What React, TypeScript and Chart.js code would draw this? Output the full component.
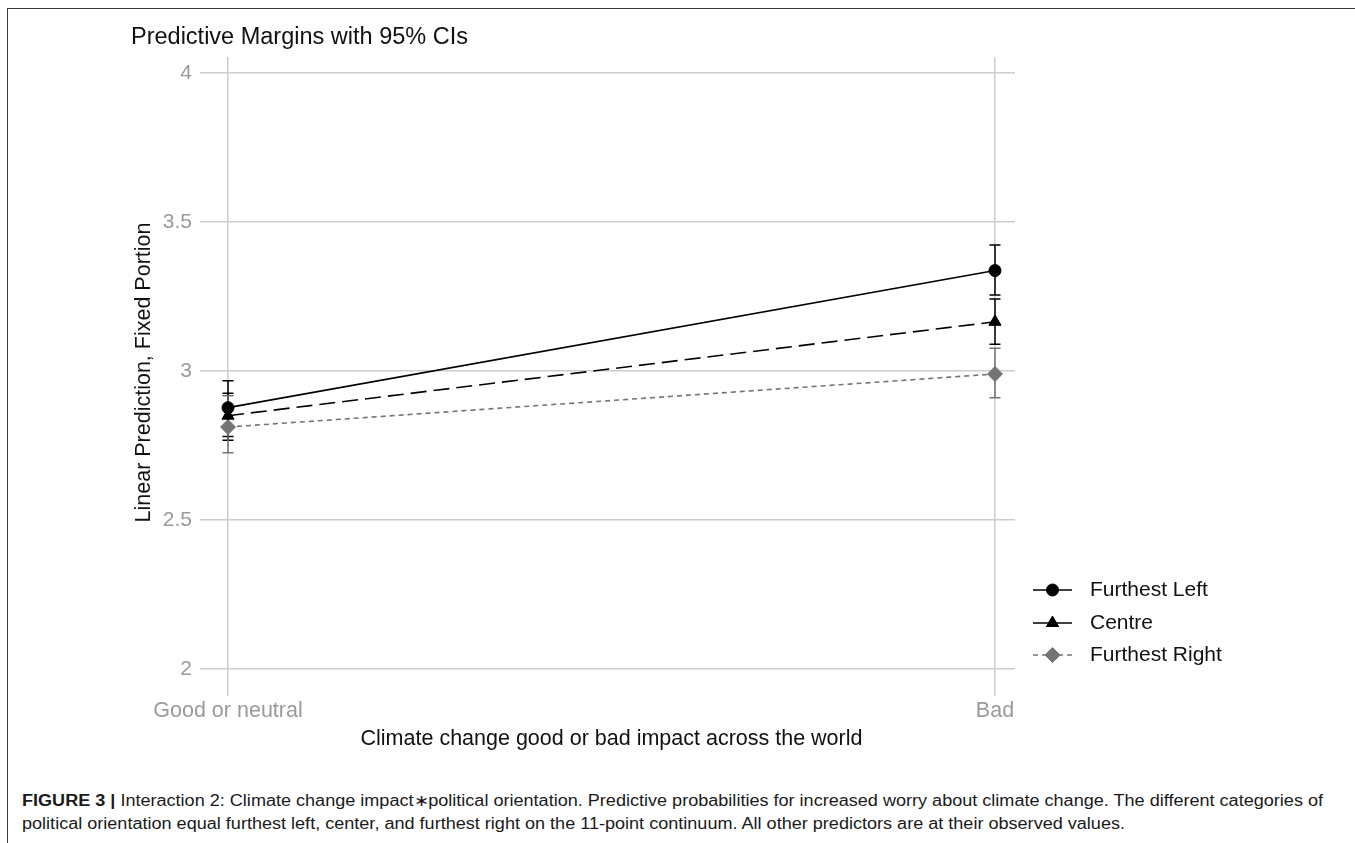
import React, { useEffect, useLayoutEffect, useRef } from "react";
import { Chart, registerables } from "chart.js";
import { drawPoint } from "chart.js/helpers";

Chart.register(...registerables);

// ---------- data ----------
const categories = ["Good or neutral", "Bad"];
const categoryX = [0, 1];
const yTicks = [2, 2.5, 3, 3.5, 4];
const seriesNames = ["Furthest Left", "Centre", "Furthest Right"];

const leftValues = [2.877, 3.337];
const leftLow = [2.78, 3.255];
const leftHigh = [2.967, 3.423];

const centreValues = [2.85, 3.165];
const centreLow = [2.768, 3.09];
const centreHigh = [2.925, 3.242];

const rightValues = [2.812, 2.99];
const rightLow = [2.726, 2.91];
const rightHigh = [2.917, 3.076];

const chartTitle = "Predictive Margins with 95% CIs";
const yTitle = "Linear Prediction, Fixed Portion";
const xTitle = "Climate change good or bad impact across the world";
const captionBold = "FIGURE 3 | ";
const captionLine1 =
  "Interaction 2: Climate change impact\u2217political orientation. Predictive probabilities for increased worry about climate change. The different categories of";
const captionLine2 =
  "political orientation equal furthest left, center, and furthest right on the 11-point continuum. All other predictors are at their observed values.";

// ---------- style ----------
const FONT = "'Liberation Sans', Arial, Helvetica, sans-serif";
const GRID = "#cdcdcd";
const TICK_COLOR = "#9a9a9a";
const GRAY = "#747474";

const toPoints = (vals: number[]) => categoryX.map((x, i) => ({ x, y: vals[i] }));

const errorBarPlugin = {
  id: "errorBars",
  beforeDatasetsDraw(chart: any) {
    const { ctx } = chart;
    const xs = chart.scales.x;
    const ys = chart.scales.y;
    const cap = 5.5;
    chart.data.datasets.forEach((ds: any) => {
      ctx.save();
      ctx.strokeStyle = ds.borderColor;
      ctx.lineWidth = 1.5;
      ctx.setLineDash([]);
      ds.data.forEach((p: any, i: number) => {
        const px = xs.getPixelForValue(p.x);
        const yl = ys.getPixelForValue(ds.errLow[i]);
        const yh = ys.getPixelForValue(ds.errHigh[i]);
        ctx.beginPath();
        ctx.moveTo(px, yl);
        ctx.lineTo(px, yh);
        ctx.moveTo(px - cap, yl);
        ctx.lineTo(px + cap, yl);
        ctx.moveTo(px - cap, yh);
        ctx.lineTo(px + cap, yh);
        ctx.stroke();
      });
      ctx.restore();
    });
  },
};

const sideLegendPlugin = {
  id: "sideLegend",
  afterDraw(chart: any) {
    const { ctx, chartArea } = chart;
    const x0 = chartArea.right + 18;
    const x1 = x0 + 39;
    const xm = (x0 + x1) / 2;
    const tx = x1 + 18;
    const rowY = [590, 623, 655];
    chart.data.datasets.forEach((ds: any, i: number) => {
      const yy = rowY[i];
      ctx.save();
      ctx.strokeStyle = ds.borderColor;
      ctx.fillStyle = ds.pointBackgroundColor;
      ctx.lineWidth = 1.5;
      ctx.setLineDash(ds.borderDash || []);
      ctx.beginPath();
      ctx.moveTo(x0, yy);
      ctx.lineTo(xm, yy);
      ctx.stroke();
      ctx.beginPath();
      ctx.moveTo(x1, yy);
      ctx.lineTo(xm, yy);
      ctx.stroke();
      ctx.setLineDash([]);
      ctx.lineWidth = 1;
      drawPoint(
        ctx,
        { pointStyle: ds.pointStyle, radius: ds.pointRadius, rotation: 0, borderWidth: 1 } as any,
        xm,
        yy
      );
      ctx.fillStyle = "#111";
      ctx.font = `21px ${FONT}`;
      ctx.textAlign = "left";
      ctx.textBaseline = "middle";
      ctx.fillText(ds.label, tx, yy);
      ctx.restore();
    });
  },
};

export default function App() {
  const canvasRef = useRef<HTMLCanvasElement | null>(null);
  const line1Ref = useRef<HTMLSpanElement | null>(null);
  const line2Ref = useRef<HTMLSpanElement | null>(null);

  useLayoutEffect(() => {
    const l1 = line1Ref.current;
    const l2 = line2Ref.current;
    if (!l1 || !l2) return;
    l1.style.transform = "none";
    l2.style.transform = "none";
    const w = l1.getBoundingClientRect().width;
    if (w > 0) {
      const k = 1301 / w;
      l1.style.transform = `scaleX(${k})`;
      l2.style.transform = `scaleX(${k})`;
    }
  }, []);

  useEffect(() => {
    if (!canvasRef.current) return;
    Chart.defaults.font.family = FONT;
    const chart = new Chart(canvasRef.current, {
      type: "line",
      data: {
        datasets: [
          {
            label: seriesNames[0],
            data: toPoints(leftValues),
            errLow: leftLow,
            errHigh: leftHigh,
            borderColor: "#000",
            backgroundColor: "#000",
            pointBackgroundColor: "#000",
            pointBorderColor: "#000",
            borderWidth: 1.6,
            borderDash: [],
            pointStyle: "circle",
            pointRadius: 6,
            pointBorderWidth: 1,
          } as any,
          {
            label: seriesNames[1],
            data: toPoints(centreValues),
            errLow: centreLow,
            errHigh: centreHigh,
            borderColor: "#000",
            backgroundColor: "#000",
            pointBackgroundColor: "#000",
            pointBorderColor: "#000",
            borderWidth: 1.6,
            borderDash: [16, 7],
            pointStyle: "triangle",
            pointRadius: 7,
            pointBorderWidth: 1,
          } as any,
          {
            label: seriesNames[2],
            data: toPoints(rightValues),
            errLow: rightLow,
            errHigh: rightHigh,
            borderColor: GRAY,
            backgroundColor: GRAY,
            pointBackgroundColor: GRAY,
            pointBorderColor: GRAY,
            borderWidth: 1.6,
            borderDash: [5, 4],
            pointStyle: "rectRot",
            pointRadius: 7.5,
            pointBorderWidth: 1,
          } as any,
        ],
      },
      options: {
        responsive: false,
        maintainAspectRatio: false,
        animation: false,
        layout: { padding: { left: 131, right: 340, top: 57, bottom: 12 } },
        plugins: {
          legend: { display: false },
          tooltip: { enabled: false },
          title: { display: false },
        },
        scales: {
          x: {
            type: "linear",
            min: -0.02608,
            max: 1.02608,
            afterBuildTicks: (s: any) => {
              s.ticks = categoryX.map((v) => ({ value: v }));
            },
            afterFit: (s: any) => {
              s.height = 70;
            },
            grid: { color: GRID, lineWidth: 1.5, tickLength: 8, drawTicks: true },
            border: { display: false },
            ticks: {
              color: TICK_COLOR,
              font: { size: 21.5 },
              padding: 2,
              maxRotation: 0,
              autoSkip: false,
              callback: (v: any) => {
                const i = categoryX.indexOf(Number(v));
                return i >= 0 ? categories[i] : "";
              },
            },
            title: {
              display: true,
              text: xTitle,
              color: "#111",
              font: { size: 21.5 },
              padding: { top: 0, bottom: 6.5 },
            },
          },
          y: {
            type: "linear",
            min: 1.9362,
            max: 4.0537,
            afterBuildTicks: (s: any) => {
              s.ticks = yTicks.map((v) => ({ value: v }));
            },
            afterFit: (s: any) => {
              s.width = 77;
            },
            grid: { color: GRID, lineWidth: 1.5, tickLength: 8, drawTicks: true },
            border: { display: false },
            ticks: {
              color: TICK_COLOR,
              font: { size: 21 },
              padding: 8,
              callback: (v: any) => String(v),
            },
            title: {
              display: true,
              text: yTitle,
              color: "#111",
              font: { size: 21.5 },
              padding: { top: 0, bottom: 0 },
            },
          },
        },
      },
      plugins: [errorBarPlugin, sideLegendPlugin],
    } as any);
    return () => chart.destroy();
  }, []);

  return (
    <div
      style={{
        position: "absolute",
        left: 0,
        top: 0,
        width: 1355,
        height: 843,
        overflow: "hidden",
        background: "#fff",
        fontFamily: FONT,
      }}
    >
      <div
        style={{
          position: "absolute",
          left: 7,
          top: 8,
          width: 1348,
          height: 835,
          borderTop: "1.5px solid #3a3a3a",
          borderLeft: "1.5px solid #3a3a3a",
          boxSizing: "border-box",
        }}
      />
      <canvas
        ref={canvasRef}
        width={1355}
        height={770}
        style={{ position: "absolute", left: 0, top: 0 }}
      />
      <div
        style={{
          position: "absolute",
          left: 131,
          top: 25,
          fontSize: 23.5,
          lineHeight: "23px",
          color: "#111",
          whiteSpace: "nowrap",
        }}
      >
        {chartTitle}
      </div>
      <div
        style={{
          position: "absolute",
          left: 22,
          top: 788.7,
          fontSize: 16,
          lineHeight: "23px",
          color: "#1a1a1a",
          whiteSpace: "nowrap",
          fontFamily: "'Liberation Sans Narrow', 'Liberation Sans', Arial, sans-serif",
        }}
      >
        <div>
          <span ref={line1Ref} style={{ display: "inline-block", transformOrigin: "0 0" }}>
            <b>{captionBold}</b>
            {captionLine1}
          </span>
        </div>
        <div>
          <span ref={line2Ref} style={{ display: "inline-block", transformOrigin: "0 0" }}>
            {captionLine2}
          </span>
        </div>
      </div>
    </div>
  );
}
